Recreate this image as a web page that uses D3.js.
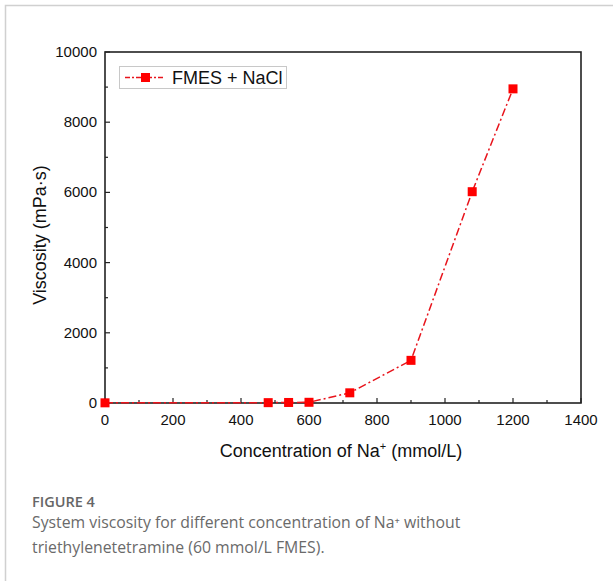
<!DOCTYPE html>
<html>
<head>
<meta charset="utf-8">
<script src="https://cdn.jsdelivr.net/npm/d3@7"></script>
<style>
body { margin: 0; background: #fff; }
svg { display: block; }
</style>
</head>
<body>
<svg id="chart" width="613" height="581"></svg>
<script>
// data
var concentration = [0, 480, 540, 600, 720, 900, 1080, 1200];
var viscosity = [5, 10, 15, 20, 290, 1215, 6020, 8950];
var seriesName = "FMES + NaCl";
var xTicks = [0, 200, 400, 600, 800, 1000, 1200, 1400];
var yTicks = [0, 2000, 4000, 6000, 8000, 10000];
var captionTitle = "FIGURE 4";
var captionLines = ["System viscosity for different concentration of Na\u207A without", "triethylenetetramine (60 mmol/L FMES)."];

var svg = d3.select("#chart");
var plotL = 105, plotR = 581, plotT = 52, plotB = 403;

var x = d3.scaleLinear().domain([0, 1400]).range([plotL, plotR]);
var y = d3.scaleLinear().domain([0, 10000]).range([plotB, plotT]);

// page frame
svg.append("path")
	.attr("d", "M5.5,581 V5.5 H613")
	.style("fill", "none")
	.style("stroke", "#d0d0d0")
	.style("stroke-width", 1.5);

var axisFont = "'Liberation Sans', Arial, sans-serif";

// minor ticks
var xMinor = d3.range(100, 1400, 200);
var yMinor = d3.range(1000, 10000, 2000);

var g = svg.append("g");

g.selectAll("line.xmaj")
	.data(xTicks)
	.enter()
	.append("line")
	.attr("x1", d => x(d)).attr("x2", d => x(d))
	.attr("y1", plotB).attr("y2", plotB - 5)
	.style("stroke", "#222").style("stroke-width", 1.2);

g.selectAll("line.xmin")
	.data(xMinor)
	.enter()
	.append("line")
	.attr("x1", d => x(d)).attr("x2", d => x(d))
	.attr("y1", plotB).attr("y2", plotB - 3)
	.style("stroke", "#222").style("stroke-width", 1.2);

g.selectAll("line.ymaj")
	.data(yTicks)
	.enter()
	.append("line")
	.attr("x1", plotL).attr("x2", plotL + 5)
	.attr("y1", d => y(d)).attr("y2", d => y(d))
	.style("stroke", "#222").style("stroke-width", 1.2);

g.selectAll("line.ymin")
	.data(yMinor)
	.enter()
	.append("line")
	.attr("x1", plotL).attr("x2", plotL + 3)
	.attr("y1", d => y(d)).attr("y2", d => y(d))
	.style("stroke", "#222").style("stroke-width", 1.2);

// frame of the plot
svg.append("rect")
	.attr("x", plotL).attr("y", plotT)
	.attr("width", plotR - plotL).attr("height", plotB - plotT)
	.style("fill", "none")
	.style("stroke", "#222")
	.style("stroke-width", 1.6);

// tick labels
svg.selectAll("text.xl")
	.data(xTicks)
	.enter()
	.append("text")
	.attr("x", d => x(d))
	.attr("y", plotB + 22)
	.attr("text-anchor", "middle")
	.style("font-family", axisFont)
	.style("font-size", "15px")
	.style("fill", "#111")
	.text(d => d);

svg.selectAll("text.yl")
	.data(yTicks)
	.enter()
	.append("text")
	.attr("x", plotL - 8)
	.attr("y", d => y(d) + 5)
	.attr("text-anchor", "end")
	.style("font-family", axisFont)
	.style("font-size", "15px")
	.style("fill", "#111")
	.text(d => d);

// axis titles
var xt = svg.append("text")
	.attr("x", 341)
	.attr("y", 457)
	.attr("text-anchor", "middle")
	.style("font-family", axisFont)
	.style("font-size", "18px")
	.style("fill", "#111");
xt.append("tspan").text("Concentration of Na");
xt.append("tspan").attr("dy", -7).style("font-size", "11px").text("+");
xt.append("tspan").attr("dy", 7).text(" (mmol/L)");

svg.append("text")
	.attr("transform", "translate(46,235) rotate(-90)")
	.attr("text-anchor", "middle")
	.style("font-family", axisFont)
	.style("font-size", "18px")
	.style("fill", "#111")
	.text("Viscosity (mPa\u00B7s)");

// series
var pts = concentration.map((c, i) => ({x: c, y: viscosity[i]}));
var line = d3.line().x(d => x(d.x)).y(d => y(d.y));

svg.append("path")
	.datum(pts)
	.attr("d", line)
	.style("fill", "none")
	.style("stroke", "#e8141c")
	.style("stroke-width", 1.5)
	.style("stroke-dasharray", "8,3,2,3");

svg.selectAll("rect.pt")
	.data(pts)
	.enter()
	.append("rect")
	.attr("x", d => x(d.x) - 4.5)
	.attr("y", d => y(d.y) - 4.5)
	.attr("width", 9).attr("height", 9)
	.style("fill", "#ff0000");

// legend
var lg = svg.append("g");
lg.append("rect")
	.attr("x", 119.5).attr("y", 66.5)
	.attr("width", 167).attr("height", 22)
	.style("fill", "#fff")
	.style("stroke", "#c8c8c8")
	.style("stroke-width", 1);
lg.append("line")
	.attr("x1", 125).attr("x2", 165)
	.attr("y1", 77.5).attr("y2", 77.5)
	.style("stroke", "#e8141c")
	.style("stroke-width", 1.5)
	.style("stroke-dasharray", "5,2,2,2");
lg.append("rect")
	.attr("x", 141).attr("y", 73)
	.attr("width", 9).attr("height", 9)
	.style("fill", "#ff0000");
lg.append("text")
	.attr("x", 172)
	.attr("y", 84)
	.style("font-family", axisFont)
	.style("font-size", "18px")
	.style("fill", "#111")
	.text(seriesName);

// caption
var capFont = "'Open Sans', 'Noto Sans', sans-serif";
svg.append("text")
	.attr("x", 32).attr("y", 507)
	.style("font-family", capFont)
	.style("font-size", "14.5px")
	.style("font-weight", 600)
	.style("fill", "#666")
	.text(captionTitle);

svg.selectAll("text.cap")
	.data(captionLines)
	.enter()
	.append("text")
	.attr("x", 32)
	.attr("y", (d, i) => 528 + i * 25)
	.style("font-family", capFont)
	.style("font-size", "15.8px")
	.style("fill", "#6a6a6a")
	.text(d => d);
</script>
</body>
</html>
